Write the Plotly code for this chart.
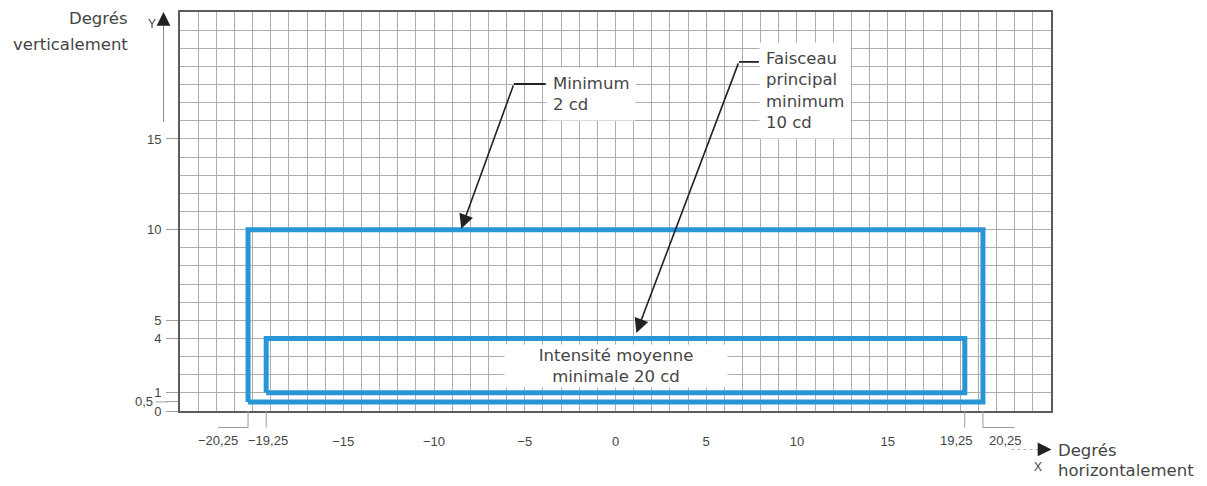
import plotly.graph_objects as go

# ---------------- data ----------------
outer_x = [-20.25, 20.25]          # "Minimum 2 cd" zone, horizontal limits (deg)
outer_y = [0.5, 10]                # vertical limits (deg)
inner_x = [-19.25, 19.25]          # main beam zone, horizontal limits (deg)
inner_y = [1, 4]                   # vertical limits (deg)

x_tick_vals = [-15, -10, -5, 0, 5, 10, 15]
x_tick_text = ["−15", "−10", "−5", "0", "5", "10", "15"]
x_edge_vals = [-20.25, -19.25, 19.25, 20.25]
x_edge_text = ["−20,25", "−19,25", "19,25", "20,25"]
y_tick_vals = [0, 0.5, 1, 4, 5, 10, 15]
y_tick_text = ["0", "", "1", "4", "5", "10", "15"]
y_half_val = 0.5
y_half_text = "0,5"

x_range = [-24, 24]
y_range = [0, 22]

label_min = "Minimum<br>2 cd"
label_beam = "Faisceau<br>principal<br>minimum<br>10 cd"
label_avg = "Intensité moyenne<br>minimale 20 cd"

# ---------------- layout / style ----------------
OFF = 8                      # page body margin
W, H = 1199, 478
ML, MT = 179.5 - OFF, 12 - OFF
PR, PB = 1051.5, 411.5       # plot right / bottom in page pixels
MR = W - (PR - OFF)
MB = H - (PB - OFF)
PW, PH = W - ML - MR, H - MT - MB
FONT = "Liberation Sans, Arial, sans-serif"
AFONT = "DejaVu Sans, Verdana, sans-serif"
TXT = "#454545"
BLUE = "#2896d6"
GRID = "#adadad"
ASZ = 16.5


def pxx(p):   # page pixel x -> paper
    return (p - OFF - ML) / PW


def pxy(p):   # page pixel y -> paper
    return (H - MB - (p - OFF)) / PH


def rect(xs, ys):
    return [xs[0], xs[1], xs[1], xs[0], xs[0]], [ys[0], ys[0], ys[1], ys[1], ys[0]]


fig = go.Figure()
for xs, ys in [(outer_x, outer_y), (inner_x, inner_y)]:
    rx, ry = rect(xs, ys)
    fig.add_trace(go.Scatter(x=rx, y=ry, mode="lines",
                             line=dict(color=BLUE, width=5),
                             hoverinfo="skip", showlegend=False))

shapes = []
annotations = []

# leader lines + labels for the edge ticks
edge_label_dx = [-1.65, 0.1, -0.45, 1.25]
edge_leader_dx = [-1.65, 0, 0, 1.75]
y_lead = pxy(428)
for v, t, ldx, hdx in zip(x_edge_vals, x_edge_text, edge_label_dx, edge_leader_dx):
    shapes.append(dict(type="line", xref="x", yref="paper", x0=v, x1=v,
                       y0=0, y1=y_lead, line=dict(color="#9a9a9a", width=1)))
    if hdx != 0:
        shapes.append(dict(type="line", xref="x", yref="paper", x0=v, x1=v + hdx,
                           y0=y_lead, y1=y_lead, line=dict(color="#9a9a9a", width=1)))
    annotations.append(dict(x=v + ldx, y=pxy(441), xref="x", yref="paper", text=t,
                            showarrow=False, xanchor="center", yanchor="middle",
                            font=dict(size=13, color=TXT, family=FONT)))

# "0,5" label set aside with a leader
shapes.append(dict(type="line", xref="paper", yref="y", x0=pxx(155), x1=pxx(168),
                   y0=y_half_val, y1=y_half_val, line=dict(color="#a0a0a0", width=1)))
annotations.append(dict(x=pxx(154), y=y_half_val, xref="paper", yref="y", text=y_half_text,
                        showarrow=False, xanchor="right", yanchor="middle",
                        font=dict(size=13, color=TXT, family=FONT)))

# callout "Minimum 2 cd"
min_tip = (-8.5, 10.05)
min_bend = (-5.6, 18.03)
min_text_x = -3.85
shapes.append(dict(type="line", xref="x", yref="y", x0=min_bend[0], x1=min_text_x,
                   y0=min_bend[1], y1=min_bend[1], line=dict(color="#222", width=1.8)))
annotations.append(dict(x=min_tip[0], y=min_tip[1], ax=min_bend[0], ay=min_bend[1],
                        xref="x", yref="y", axref="x", ayref="y", text="",
                        showarrow=True, arrowhead=2, arrowsize=1.8, arrowwidth=1.6,
                        arrowcolor="#222", standoff=0))
annotations.append(dict(x=min_text_x, y=17.5, xref="x", yref="y", text=label_min,
                        showarrow=False, xanchor="left", yanchor="middle", align="left",
                        bgcolor="white", borderpad=6,
                        font=dict(size=ASZ, color=TXT, family=AFONT)))

# callout "Faisceau principal minimum 10 cd"
beam_tip = (1.15, 4.3)
beam_bend = (6.8, 19.25)
beam_text_x = 7.9
shapes.append(dict(type="line", xref="x", yref="y", x0=beam_bend[0], x1=beam_text_x,
                   y0=beam_bend[1], y1=beam_bend[1], line=dict(color="#222", width=1.8)))
annotations.append(dict(x=beam_tip[0], y=beam_tip[1], ax=beam_bend[0], ay=beam_bend[1],
                        xref="x", yref="y", axref="x", ayref="y", text="",
                        showarrow=True, arrowhead=2, arrowsize=1.8, arrowwidth=1.6,
                        arrowcolor="#222", standoff=0))
annotations.append(dict(x=beam_text_x, y=17.65, xref="x", yref="y", text=label_beam,
                        showarrow=False, xanchor="left", yanchor="middle", align="left",
                        bgcolor="white", borderpad=6,
                        font=dict(size=ASZ, color=TXT, family=AFONT)))

# central label
annotations.append(dict(x=0, y=2.5, xref="x", yref="y", text=label_avg,
                        showarrow=False, xanchor="center", yanchor="middle", align="center",
                        bgcolor="white", width=222, height=42, borderpad=0,
                        font=dict(size=ASZ, color=TXT, family=AFONT)))

# axis arrows and titles
shapes.append(dict(type="line", xref="paper", yref="paper", x0=pxx(163), x1=pxx(163),
                   y0=pxy(122), y1=pxy(20), line=dict(color="#8a8a8a", width=1)))
annotations.append(dict(x=pxx(163), y=pxy(12), xref="paper", yref="paper", text="",
                        showarrow=True, ax=0, ay=10, arrowhead=2, arrowsize=2.3,
                        arrowwidth=1.2, arrowcolor="#222", standoff=0))
annotations.append(dict(x=pxx(151), y=pxy(24), xref="paper", yref="paper", text="Y",
                        showarrow=False, xanchor="center", yanchor="middle",
                        font=dict(size=12, color=TXT, family=FONT)))
annotations.append(dict(x=pxx(129), y=pxy(19), xref="paper", yref="paper", text="Degrés",
                        showarrow=False, xanchor="right", yanchor="middle",
                        font=dict(size=ASZ, color=TXT, family=AFONT)))
annotations.append(dict(x=pxx(129), y=pxy(45), xref="paper", yref="paper",
                        text="verticalement", showarrow=False, xanchor="right",
                        yanchor="middle", font=dict(size=ASZ, color=TXT, family=AFONT)))

shapes.append(dict(type="line", xref="paper", yref="paper", x0=pxx(1012), x1=pxx(1040),
                   y0=pxy(450), y1=pxy(450), line=dict(color="#b0b0b0", width=1, dash="dot")))
annotations.append(dict(x=pxx(1052), y=pxy(450), xref="paper", yref="paper", text="",
                        showarrow=True, ax=-12, ay=0, arrowhead=2, arrowsize=2.3,
                        arrowwidth=1.2, arrowcolor="#222", standoff=0))
annotations.append(dict(x=pxx(1057), y=pxy(451), xref="paper", yref="paper", text="Degrés",
                        showarrow=False, xanchor="left", yanchor="middle",
                        font=dict(size=ASZ, color=TXT, family=AFONT)))
annotations.append(dict(x=pxx(1038), y=pxy(468), xref="paper", yref="paper", text="X",
                        showarrow=False, xanchor="center", yanchor="middle",
                        font=dict(size=12, color=TXT, family=FONT)))
annotations.append(dict(x=pxx(1057), y=pxy(471), xref="paper", yref="paper",
                        text="horizontalement", showarrow=False, xanchor="left",
                        yanchor="middle", font=dict(size=ASZ, color=TXT, family=AFONT)))

axis_common = dict(showgrid=False, zeroline=False, showline=True, mirror=True,
                   linecolor="#5c5c5c", linewidth=2,
                   tickfont=dict(size=13, color=TXT, family=FONT),
                   minor=dict(dtick=1, tick0=0, showgrid=True, gridcolor=GRID,
                              gridwidth=1, ticks=""))

fig.update_xaxes(range=x_range, tickmode="array", tickvals=x_tick_vals,
                 ticktext=x_tick_text, ticks="", tickangle=0, ticklabelstandoff=17,
                 **axis_common)
fig.update_yaxes(range=y_range, tickmode="array", tickvals=y_tick_vals,
                 ticktext=y_tick_text, ticks="outside", ticklen=12, tickwidth=1,
                 tickcolor="#a0a0a0", ticklabelstandoff=2, **axis_common)

fig.update_layout(width=W, height=H, margin=dict(l=ML, r=MR, t=MT, b=MB, autoexpand=False),
                  paper_bgcolor="white", plot_bgcolor="white",
                  shapes=shapes, annotations=annotations, showlegend=False,
                  font=dict(family=FONT, color=TXT))

fig.write_html("out.html")
